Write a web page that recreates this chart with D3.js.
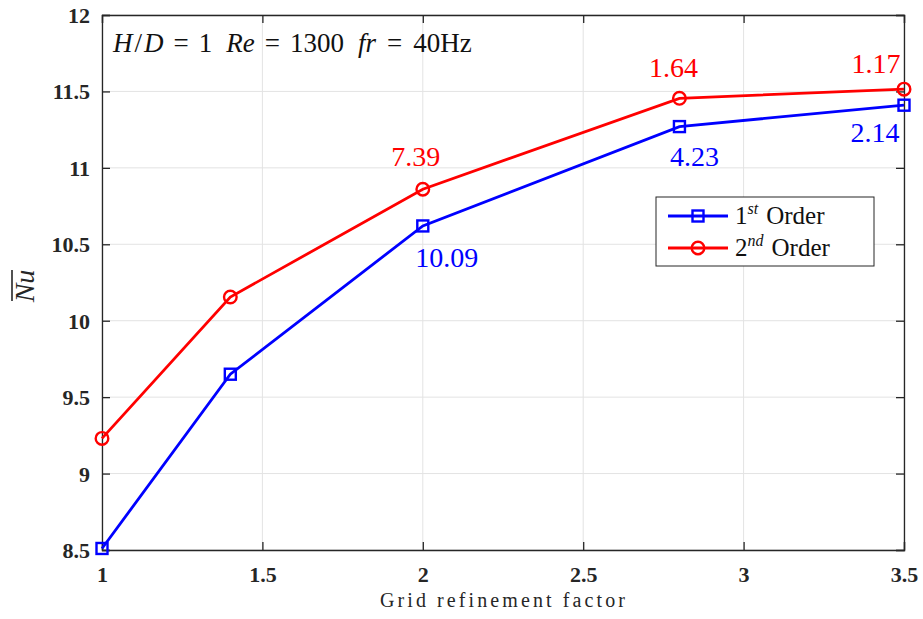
<!DOCTYPE html>
<html>
<head>
<meta charset="utf-8">
<script src="https://cdn.jsdelivr.net/npm/d3@7"></script>
<style>
  body { margin: 0; background: #fff; }
  svg text { font-family: "Liberation Serif", "Times New Roman", serif; }
</style>
</head>
<body>
<svg id="chart" width="923" height="619"></svg>
<script>
// Grid refinement factors and mean Nusselt numbers
const refinement = [1, 1.4, 2, 2.8, 3.5];
const nuFirst = [8.51, 9.65, 10.62, 11.27, 11.41];
const nuSecond = [9.23, 10.155, 10.86, 11.455, 11.515];
// Relative change (%) between successive grids
const errFirst = ["", "", "10.09", "4.23", "2.14"];
const errSecond = ["", "", "7.39", "1.64", "1.17"];
const xTicks = [1, 1.5, 2, 2.5, 3, 3.5];
const yTicks = [8.5, 9, 9.5, 10, 10.5, 11, 11.5, 12];

const svg = d3.select("#chart");
const m = { left: 102, right: 904, top: 15, bottom: 550 };
const x = d3.scaleLinear().domain([1, 3.5]).range([m.left, m.right]);
const y = d3.scaleLinear().domain([8.5, 12]).range([m.bottom, m.top]);
const ink = "#262626";
const serif = "'Liberation Serif', 'Times New Roman', serif";

// grid
const grid = svg.append("g");
grid.selectAll(".gx").data(xTicks).enter().append("line")
  .attr("x1", d => x(d)).attr("x2", d => x(d))
  .attr("y1", m.top).attr("y2", m.bottom)
  .attr("stroke", "#e3e3e3").attr("stroke-width", 1);
grid.selectAll(".gy").data(yTicks).enter().append("line")
  .attr("y1", d => y(d)).attr("y2", d => y(d))
  .attr("x1", m.left).attr("x2", m.right)
  .attr("stroke", "#e3e3e3").attr("stroke-width", 1);

// axes, ticks pointing inward on all four sides
const tl = 8;
const fmt = d3.format("~g");
const axB = d3.axisBottom(x).tickValues(xTicks).tickSize(-tl).tickFormat(fmt);
const axT = d3.axisTop(x).tickValues(xTicks).tickSize(-tl).tickFormat("");
const axL = d3.axisLeft(y).tickValues(yTicks).tickSize(-tl).tickFormat(fmt);
const axR = d3.axisRight(y).tickValues(yTicks).tickSize(-tl).tickFormat("");

function styleAxis(g) {
  g.attr("font-family", serif);
  g.selectAll("path, line").attr("stroke", ink).attr("stroke-width", 1.3);
  g.selectAll("text").attr("font-size", 22).attr("font-weight", "bold").attr("fill", ink)
    .style("font-family", serif);
}
svg.append("g").attr("transform", `translate(0,${m.bottom})`).call(axB).call(styleAxis)
  .selectAll("text").attr("y", 32).attr("dy", 0);
svg.append("g").attr("transform", `translate(0,${m.top})`).call(axT).call(styleAxis);
svg.append("g").attr("transform", `translate(${m.left},0)`).call(axL).call(styleAxis)
  .selectAll("text").attr("x", -12).attr("dy", "0.34em");
svg.append("g").attr("transform", `translate(${m.right},0)`).call(axR).call(styleAxis);

// axis labels
svg.append("text").attr("x", (m.left + m.right) / 2 + 1).attr("y", 607)
  .attr("text-anchor", "middle").attr("font-size", 20).attr("letter-spacing", 3.1)
  .attr("fill", ink).style("font-family", serif).text("Grid refinement factor");
const yl = svg.append("g").attr("transform", "translate(34,286) rotate(-90)");
yl.append("text").attr("text-anchor", "middle").attr("font-size", 28)
  .attr("font-style", "italic").attr("fill", ink).style("font-family", serif).text("Nu");
yl.append("line").attr("x1", -15).attr("x2", 16).attr("y1", -22).attr("y2", -22)
  .attr("stroke", ink).attr("stroke-width", 1.6);

// condition annotation
const ann = svg.append("text").attr("x", 113).attr("y", 52).attr("font-size", 27)
  .attr("fill", "#111").style("font-family", serif);
[
  ["H", true, 0], ["/", false, 2], ["D", true, 2], ["=", false, 10], ["1", false, 10],
  ["Re", true, 14], ["=", false, 10], ["1300", false, 10],
  ["fr", true, 14], ["=", false, 11], ["40Hz", false, 11]
].forEach(([s, it, dx]) => {
  ann.append("tspan").attr("dx", dx).attr("font-style", it ? "italic" : "normal").text(s);
});

// series
const line = d3.line().x(d => x(d[0])).y(d => y(d[1]));
const s1 = refinement.map((r, i) => [r, nuFirst[i]]);
const s2 = refinement.map((r, i) => [r, nuSecond[i]]);
const blue = "#0000ff", red = "#ff0000";

svg.append("path").datum(s1).attr("d", line).attr("fill", "none").attr("stroke", blue).attr("stroke-width", 2.8);
svg.append("path").datum(s2).attr("d", line).attr("fill", "none").attr("stroke", red).attr("stroke-width", 2.8);

svg.selectAll(".sq").data(s1).enter().append("rect")
  .attr("x", d => x(d[0]) - 5.5).attr("y", d => y(d[1]) - 5.5).attr("width", 11).attr("height", 11)
  .attr("fill", "none").attr("stroke", blue).attr("stroke-width", 2.4);
svg.selectAll(".ci").data(s2).enter().append("circle")
  .attr("cx", d => x(d[0])).attr("cy", d => y(d[1])).attr("r", 6.3)
  .attr("fill", "none").attr("stroke", red).attr("stroke-width", 2.4);

// percentage labels next to the points
const off1 = [null, null, [24, 41], [15, 39], [-29, 37]];
const off2 = [null, null, [-7, -23], [-6, -21], [-28, -16]];
const lab1 = refinement.map((r, i) => ({ r, v: nuFirst[i], t: errFirst[i], o: off1[i] })).filter(d => d.t);
const lab2 = refinement.map((r, i) => ({ r, v: nuSecond[i], t: errSecond[i], o: off2[i] })).filter(d => d.t);
svg.selectAll(".l1").data(lab1).enter().append("text")
  .attr("x", d => x(d.r) + d.o[0]).attr("y", d => y(d.v) + d.o[1])
  .attr("text-anchor", "middle").attr("font-size", 28).attr("fill", blue)
  .style("font-family", serif).text(d => d.t);
svg.selectAll(".l2").data(lab2).enter().append("text")
  .attr("x", d => x(d.r) + d.o[0]).attr("y", d => y(d.v) + d.o[1])
  .attr("text-anchor", "middle").attr("font-size", 28).attr("fill", red)
  .style("font-family", serif).text(d => d.t);

// legend
const lg = svg.append("g").attr("transform", "translate(656,197)");
lg.append("rect").attr("width", 218).attr("height", 69).attr("fill", "#fff")
  .attr("stroke", ink).attr("stroke-width", 1);
const items = [
  { c: blue, sup: "st", n: "1", m: "sq" },
  { c: red, sup: "nd", n: "2", m: "ci" }
];
items.forEach((it, i) => {
  const yy = 19 + i * 32;
  lg.append("line").attr("x1", 12).attr("x2", 72).attr("y1", yy).attr("y2", yy)
    .attr("stroke", it.c).attr("stroke-width", 2.8);
  if (it.m === "sq") {
    lg.append("rect").attr("x", 36.5).attr("y", yy - 5.5).attr("width", 11).attr("height", 11)
      .attr("fill", "none").attr("stroke", it.c).attr("stroke-width", 2.4);
  } else {
    lg.append("circle").attr("cx", 42).attr("cy", yy).attr("r", 6.3)
      .attr("fill", "none").attr("stroke", it.c).attr("stroke-width", 2.4);
  }
  const t = lg.append("text").attr("x", 79).attr("y", yy + 8).attr("font-size", 25)
    .attr("fill", "#111").style("font-family", serif);
  t.append("tspan").text(it.n);
  t.append("tspan").attr("font-size", 16).attr("font-style", "italic").attr("dy", -10).text(it.sup);
  t.append("tspan").attr("dy", 10).attr("dx", 8).text("Order");
});
</script>
</body>
</html>
